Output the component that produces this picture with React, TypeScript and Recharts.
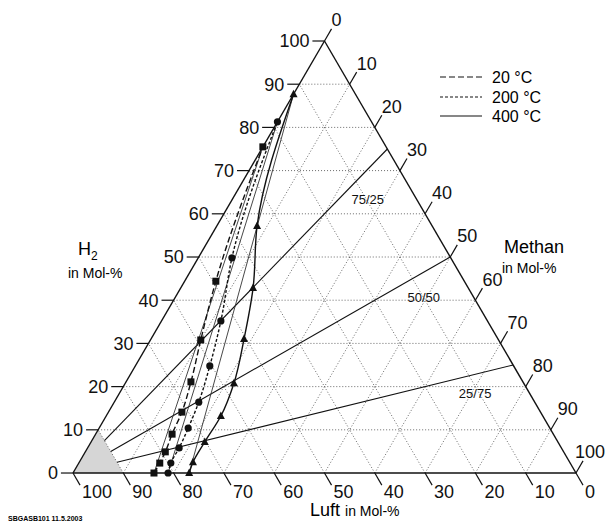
import React from "react";
import {
	ComposedChart,
	Line,
	Area,
	Scatter,
	XAxis,
	YAxis,
	ReferenceLine,
} from "recharts";

// axis tick values (Mol-%)
const TICKS = [0, 10, 20, 30, 40, 50, 60, 70, 80, 90, 100];
const GRID = [10, 20, 30, 40, 50, 60, 70, 80, 90];

// upper explosion limits, measured: H2 and Methan share in Mol-% (rest is Luft)
const H2_20C = [0, 2.3, 4.9, 9.0, 14.1, 21.1, 30.8, 44.4, 75.5];
const CH4_20C = [16.1, 16.1, 15.9, 15.2, 14.6, 12.9, 10.0, 6.2, 0];
const H2_200C = [0, 2.3, 5.8, 10.4, 16.4, 24.8, 35.2, 49.8, 81.3];
const CH4_200C = [18.9, 18.3, 18.2, 17.7, 16.8, 14.8, 11.8, 6.7, 0];
const H2_400C = [0, 2.5, 7.2, 13.2, 20.8, 31.0, 42.8, 57.2, 87.7];
const CH4_400C = [23.1, 22.6, 22.6, 22.8, 21.6, 18.5, 14.4, 8.0, 0];

// H2/Methan ratio lines
const RATIOS = [
	[75, 25],
	[50, 50],
	[25, 75],
];
const RATIO_LABELS = ["75/25", "50/50", "25/75"];
// label anchor (H2, Methan)
const RATIO_LABEL_H2 = [63.4, 40.7, 18.5];
const RATIO_LABEL_CH4 = [26.9, 49.4, 70.7];

// shaded corner: Luft >= 90
const LUFT_MIN = 90;

const W = 598;
const H = 515;

const tern = (h: number, m: number) => ({ x: m + h / 2, y: h });
const curve = (hs: number[], ms: number[]) => hs.map((h, i) => tern(h, ms[i]));

const font = "Arial, 'Liberation Sans', sans-serif";

const Square = (p: any) => (
	<rect key={p.index} x={p.cx - 3.5} y={p.cy - 3.5} width={7} height={7} fill="#111" />
);
const Dot = (p: any) => <circle key={p.index} cx={p.cx} cy={p.cy} r={3.6} fill="#111" />;
const Tri = (p: any) => (
	<path
		key={p.index}
		d={`M${p.cx},${p.cy - 4.5}L${p.cx + 4},${p.cy + 3}L${p.cx - 4},${p.cy + 3}Z`}
		fill="#111"
	/>
);

const tickText = (dx: number, dy: number, anchor: string, size = 18) => (p: any) => {
	let x = p.cx + dx;
	// keep start-anchored labels inside the drawing
	if (anchor === "start") x = Math.min(x, W - 1 - p.payload.label.length * size * 0.556);
	return (
		<text
			x={x}
			y={p.cy + dy}
			dy="0.35em"
			textAnchor={anchor}
			fontSize={size}
			fontFamily={font}
			fill="#111"
		>
			{p.payload.label}
		</text>
	);
};

export default function App() {
	const leftLabels = TICKS.map((t) => ({ ...tern(t, 0), label: String(t) }));
	const rightLabels = TICKS.map((t) => ({ ...tern(100 - t, t), label: String(t) }));
	const bottomLabels = TICKS.map((t) => ({ ...tern(0, 100 - t), label: String(t) }));
	const ratioLabels = RATIO_LABELS.map((l, i) => ({
		...tern(RATIO_LABEL_H2[i], RATIO_LABEL_CH4[i]),
		label: l,
	}));
	const span = 100 - LUFT_MIN;
	const corner = [tern(0, 0), tern(span, 0), tern(0, span)];

	return (
		<div style={{ position: "relative", width: W, height: H, fontFamily: font }}>
			<ComposedChart
				width={W}
				height={H}
				margin={{ top: 2.76, right: 2.36, bottom: 11.1, left: 4.64 }}
			>
				<XAxis type="number" dataKey="x" domain={[-12, 105.5]} hide />
				<YAxis type="number" dataKey="y" domain={[-9, 107]} hide />

				<Area
					data={corner}
					dataKey="y"
					type="linear"
					baseValue={0}
					fill="#d6d6d6"
					fillOpacity={1}
					stroke="none"
					isAnimationActive={false}
				/>

				{GRID.map((v) => (
					<ReferenceLine
						key={"h" + v}
						segment={[tern(v, 0), tern(v, 100 - v)]}
						stroke="#444"
						strokeWidth={0.8}
						strokeDasharray="1 2"
					/>
				))}
				{GRID.map((v) => (
					<ReferenceLine
						key={"m" + v}
						segment={[tern(0, v), tern(100 - v, v)]}
						stroke="#444"
						strokeWidth={0.8}
						strokeDasharray="1 2"
					/>
				))}
				{GRID.map((v) => (
					<ReferenceLine
						key={"l" + v}
						segment={[tern(0, 100 - v), tern(100 - v, 0)]}
						stroke="#444"
						strokeWidth={0.8}
						strokeDasharray="1 2"
					/>
				))}

				{/* triangle frame */}
				<ReferenceLine segment={[tern(0, 0), tern(100, 0)]} stroke="#111" strokeWidth={1.4} />
				<ReferenceLine segment={[tern(100, 0), tern(0, 100)]} stroke="#111" strokeWidth={1.4} />
				<ReferenceLine segment={[tern(0, 0), tern(0, 100)]} stroke="#111" strokeWidth={1.4} />

				{/* axis ticks */}
				{TICKS.map((t) => {
					const p = tern(t, 0);
					return (
						<ReferenceLine
							key={"lt" + t}
							segment={[p, { x: p.x - 2.4, y: p.y }]}
							stroke="#111"
							strokeWidth={1.2}
						/>
					);
				})}
				{TICKS.map((t) => {
					const p = tern(100 - t, t);
					return (
						<ReferenceLine
							key={"rt" + t}
							segment={[p, { x: p.x + 1.4, y: p.y + 2.8 }]}
							stroke="#111"
							strokeWidth={1.2}
						/>
					);
				})}
				{TICKS.map((t) => {
					const p = tern(0, 100 - t);
					return (
						<ReferenceLine
							key={"bt" + t}
							segment={[p, { x: p.x + 1.4, y: p.y - 2.8 }]}
							stroke="#111"
							strokeWidth={1.2}
						/>
					);
				})}

				{/* ratio lines */}
				{RATIOS.map(([a, b], i) => (
					<Line
						key={"r" + i}
						data={[tern((span * a) / 100, (span * b) / 100), tern(a, b)]}
						dataKey="y"
						type="linear"
						stroke="#111"
						strokeWidth={1.1}
						dot={false}
						isAnimationActive={false}
					/>
				))}

				{/* Le Chatelier straight lines */}
				{[
					[H2_20C, CH4_20C],
					[H2_200C, CH4_200C],
					[H2_400C, CH4_400C],
				].map(([hs, ms], i) => (
					<Line
						key={"lc" + i}
						data={[tern(0, ms[0]), tern(hs[hs.length - 1], 0)]}
						dataKey="y"
						type="linear"
						stroke="#333"
						strokeWidth={0.9}
						dot={false}
						isAnimationActive={false}
					/>
				))}

				<Line
					data={curve(H2_20C, CH4_20C)}
					dataKey="y"
					type="monotoneY"
					stroke="#111"
					strokeWidth={1.4}
					strokeDasharray="6 3"
					dot={Square}
					isAnimationActive={false}
				/>
				<Line
					data={curve(H2_200C, CH4_200C)}
					dataKey="y"
					type="monotoneY"
					stroke="#111"
					strokeWidth={1.4}
					strokeDasharray="3 2"
					dot={Dot}
					isAnimationActive={false}
				/>
				<Line
					data={curve(H2_400C, CH4_400C)}
					dataKey="y"
					type="monotoneY"
					stroke="#111"
					strokeWidth={1.4}
					dot={Tri}
					isAnimationActive={false}
				/>

				<Scatter data={leftLabels} dataKey="y" shape={tickText(-15, 0, "end")} isAnimationActive={false} />
				<Scatter data={rightLabels} dataKey="y" shape={tickText(7, -21, "start")} isAnimationActive={false} />
				<Scatter data={bottomLabels} dataKey="y" shape={tickText(9, 19, "start")} isAnimationActive={false} />
				<Scatter data={ratioLabels} dataKey="y" shape={tickText(0, 0, "middle", 13)} isAnimationActive={false} />
			</ComposedChart>

			{/* axis titles */}
			<div style={{ position: "absolute", left: 70, top: 232, fontSize: 18, lineHeight: "18px" }}>
				H<sub style={{ fontSize: 12 }}>2</sub>
			</div>
			<div style={{ position: "absolute", left: 60, top: 257, fontSize: 14 }}>in Mol-%</div>
			<div style={{ position: "absolute", left: 496, top: 229, fontSize: 18 }}>Methan</div>
			<div style={{ position: "absolute", left: 494, top: 252, fontSize: 14 }}>in Mol-%</div>
			<div
				style={{
					position: "absolute",
					left: 302,
					top: 493,
					fontSize: 18,
					lineHeight: "18px",
					whiteSpace: "nowrap",
				}}
			>
				Luft <span style={{ fontSize: 14 }}>in Mol-%</span>
			</div>
			<div
				style={{
					position: "absolute",
					left: 0,
					top: 507,
					fontSize: 7,
					lineHeight: "8px",
					fontWeight: "bold",
				}}
			>
				SBGASB101 11.5.2003
			</div>

			{/* legend */}
			<svg style={{ position: "absolute", left: 430, top: 58 }} width={150} height={70}>
				<line x1={2} y1={11} x2={44} y2={11} stroke="#111" strokeWidth={1.2} strokeDasharray="6 3" />
				<line x1={2} y1={31} x2={44} y2={31} stroke="#111" strokeWidth={1.2} strokeDasharray="3 2" />
				<line x1={2} y1={50} x2={44} y2={50} stroke="#111" strokeWidth={1.2} />
				<text x={54} y={11} dy="0.35em" fontSize={16} fontFamily={font}>20 °C</text>
				<text x={54} y={31} dy="0.35em" fontSize={16} fontFamily={font}>200 °C</text>
				<text x={54} y={50} dy="0.35em" fontSize={16} fontFamily={font}>400 °C</text>
			</svg>
		</div>
	);
}
